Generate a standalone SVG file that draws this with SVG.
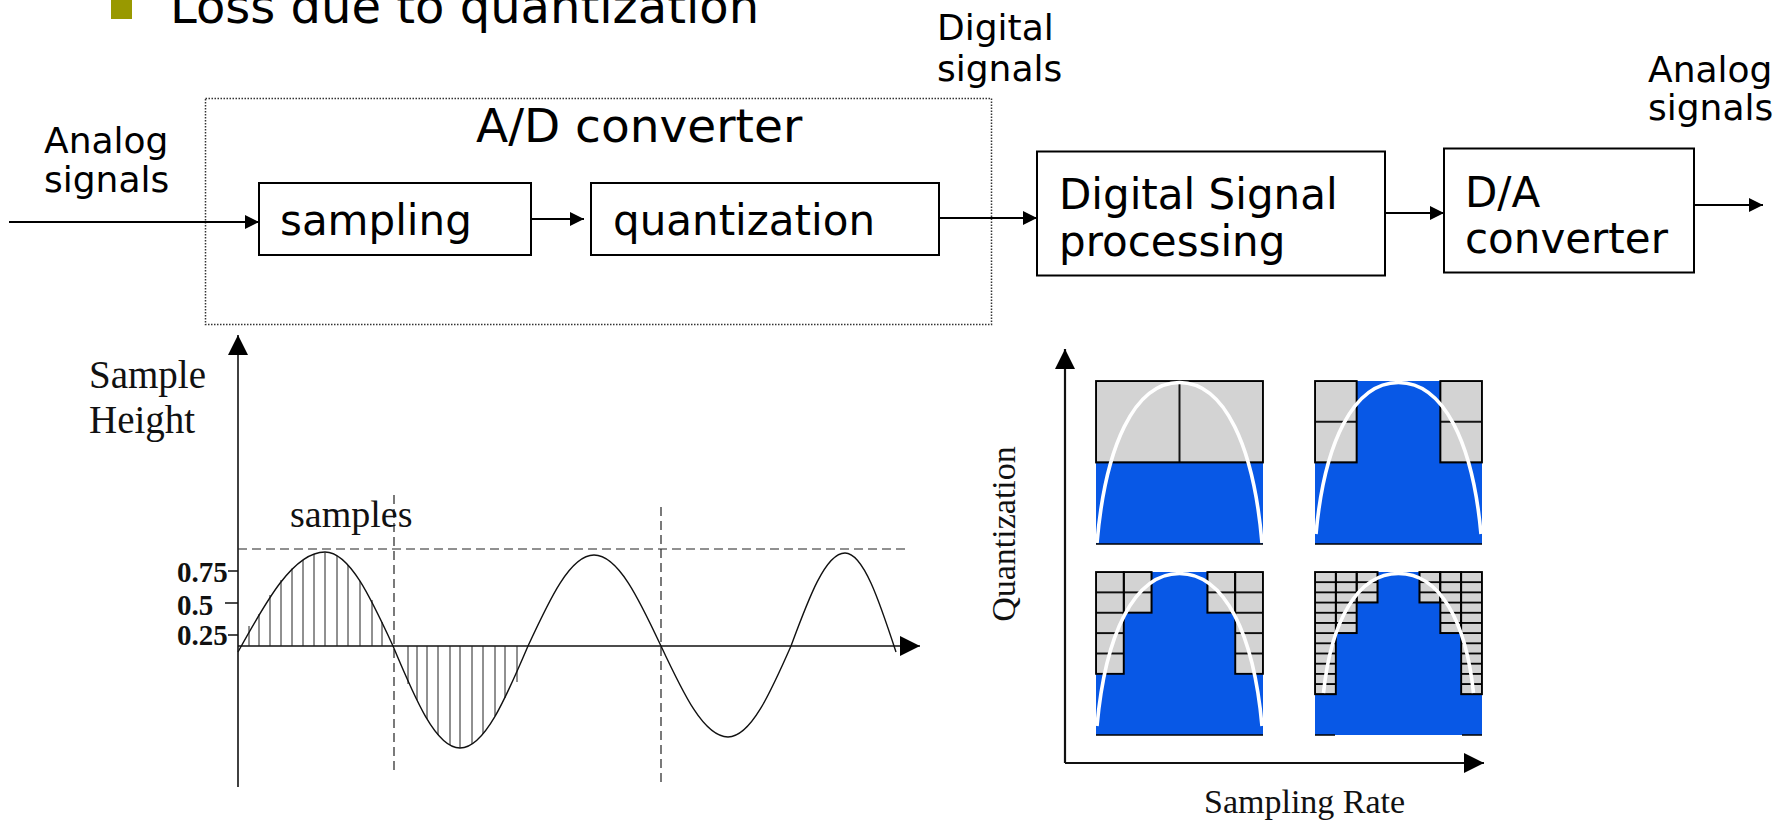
<svg xmlns="http://www.w3.org/2000/svg" width="1792" height="822" viewBox="0 0 1792 822">
  <defs>
    <style>
      .sans{font-family:"DejaVu Sans","Verdana",sans-serif;fill:#000}
      .serif{font-family:"Liberation Serif","Times New Roman",serif;fill:#111}
      .box{fill:#fff;stroke:#000;stroke-width:2}
      .wire{stroke:#000;stroke-width:2;fill:none}
      .dots{fill:none;stroke:#333;stroke-width:1.5;stroke-dasharray:1.5 1.5}
      .dash{stroke:#222;stroke-width:1.2;stroke-dasharray:9 5;fill:none}
      .axis{stroke:#111;stroke-width:1.6;fill:none}
      .axis2{stroke:#111;stroke-width:2.2;fill:none}
      .hatch{stroke:#222;stroke-width:1;fill:none}
      .blue{fill:#0858e6}
      .cells{stroke:#000;stroke-width:1.8}
      .edge{fill:none;stroke:#000;stroke-width:1.4}
      .curve{fill:none;stroke:#fff;stroke-width:3.6}
    </style>
    <marker id="arrow" viewBox="0 0 10 10" refX="10" refY="5" markerWidth="14" markerHeight="14" markerUnits="userSpaceOnUse" orient="auto">
      <path d="M0,0 L10,5 L0,10 z" fill="#000"/>
    </marker>
    <marker id="axisHead" viewBox="0 0 10 10" refX="10" refY="5" markerWidth="21" markerHeight="20" markerUnits="userSpaceOnUse" orient="auto">
      <path d="M0,0 L10,5 L0,10 z" fill="#000"/>
    </marker>
    <!-- quantization grid cells, one tile per cell -->
    <pattern id="gTL" patternUnits="userSpaceOnUse" x="1096" y="381" width="83.5" height="81.5">
      <rect width="83.5" height="81.5" fill="#d3d3d3" stroke="#000" stroke-width="1.8"/>
    </pattern>
    <pattern id="gTR" patternUnits="userSpaceOnUse" x="1315" y="381" width="41.75" height="40.75">
      <rect width="41.75" height="40.75" fill="#d3d3d3" stroke="#000" stroke-width="1.8"/>
    </pattern>
    <pattern id="gBL" patternUnits="userSpaceOnUse" x="1096" y="572" width="27.8333" height="20.375">
      <rect width="27.8333" height="20.375" fill="#d3d3d3" stroke="#000" stroke-width="1.8"/>
    </pattern>
    <pattern id="gBR" patternUnits="userSpaceOnUse" x="1315" y="572" width="20.875" height="10.1875">
      <rect width="20.875" height="10.1875" fill="#d3d3d3" stroke="#000" stroke-width="1.8"/>
    </pattern>
  </defs>

  <rect width="1792" height="822" fill="#fff"/>

  <!-- heading line -->
  <g id="title">
    <rect x="111" y="-3" width="21" height="22" fill="#999900"/>
    <text class="sans" x="170" y="22.5" font-size="48">Loss due to quantization</text>
  </g>

  <g id="label-analog-in">
    <text class="sans" font-size="36"><tspan x="44" y="153">Analog</tspan><tspan x="44" y="192">signals</tspan></text>
  </g>

  <g id="ad-converter">
    <rect class="dots" x="205.5" y="98.5" width="786" height="226"/>
    <text class="sans" x="476" y="142" font-size="47">A/D converter</text>
  </g>

  <g id="node-sampling">
    <rect class="box" x="259" y="183" width="272" height="72"/>
    <text class="sans" x="280" y="235" font-size="42">sampling</text>
  </g>

  <g id="node-quantization">
    <rect class="box" x="591" y="183" width="348" height="72"/>
    <text class="sans" x="613" y="235" font-size="42">quantization</text>
  </g>

  <g id="label-digital">
    <text class="sans" font-size="36"><tspan x="937" y="40">Digital</tspan><tspan x="937" y="81">signals</tspan></text>
  </g>

  <g id="node-dsp">
    <rect class="box" x="1037" y="151.5" width="348" height="124"/>
    <text class="sans" font-size="42"><tspan x="1059" y="209">Digital Signal</tspan><tspan x="1059" y="256">processing</tspan></text>
  </g>

  <g id="node-da">
    <rect class="box" x="1444" y="148.5" width="250" height="124"/>
    <text class="sans" font-size="42"><tspan x="1465" y="207">D/A</tspan><tspan x="1465" y="253">converter</tspan></text>
  </g>

  <g id="label-analog-out">
    <text class="sans" font-size="36"><tspan x="1648" y="82">Analog</tspan><tspan x="1648" y="120">signals</tspan></text>
  </g>

  <!-- signal path -->
  <g id="connectors">
    <line class="wire" x1="9" y1="222" x2="259" y2="222" marker-end="url(#arrow)"/>
    <line class="wire" x1="531" y1="219" x2="584" y2="219" marker-end="url(#arrow)"/>
    <line class="wire" x1="939" y1="218" x2="1037" y2="218" marker-end="url(#arrow)"/>
    <line class="wire" x1="1385" y1="213" x2="1444" y2="213" marker-end="url(#arrow)"/>
    <line class="wire" x1="1694" y1="205" x2="1763" y2="205" marker-end="url(#arrow)"/>
  </g>

  <!-- sampled sine wave -->
  <g id="plot-sampling">
    <line class="axis" x1="238" y1="787" x2="238" y2="335" marker-end="url(#axisHead)"/>
    <line class="axis" x1="238" y1="646" x2="920" y2="646" marker-end="url(#axisHead)"/>
    <path class="axis" d="M228,571H238 M225,603H238 M228,635H238"/>
    <line class="dash" x1="238" y1="549" x2="908" y2="549"/>
    <line class="dash" x1="394" y1="495" x2="394" y2="775"/>
    <line class="dash" x1="661" y1="507" x2="661" y2="787"/>
    <path class="hatch" d="M249,646V626 M259,646V614 M270,646V595 M281,646V580 M292,646V568.5 M303,646V560 M314,646V554 M325,646V552.5 M337,646V556 M348,646V565 M360,646V581 M372,646V600 M382,646V622"/>
    <path class="hatch" d="M408,646V684 M417,646V700 M427,646V719 M438,646V735 M450,646V745 M460,646V748 M472,646V744 M483,646V734 M495,646V716 M505,646V698 M517,646V682"/>
    <path fill="none" stroke="#111" stroke-width="1.4" d="M238,652 C266.3,600.8 293.6,552 325,552 C349.5,552 370.8,597.9 393,646 C414.8,698.2 435.8,748 460,748 C484.5,748 505.8,698.2 528,646 C549.5,599.4 570.2,555 594,555 C618.2,555 639.2,599.4 661,646 C682.8,692.6 703.8,737 728,737 C750.7,737 770.5,692.6 791,646 C808.6,598.4 825.5,553 845,553 C863.4,553 879.4,601.3 896,652"/>
    <text class="serif" font-size="39"><tspan x="89" y="388">Sample</tspan><tspan x="89" y="433">Height</tspan></text>
    <text class="serif" x="290" y="527" font-size="38">samples</text>
    <g class="serif" font-size="29" font-weight="bold">
      <text x="177" y="582">0.75</text>
      <text x="177" y="615">0.5</text>
      <text x="177" y="645">0.25</text>
    </g>
  </g>

  <!-- sampling rate vs quantization panels -->
  <g id="plot-quantization">
    <line class="axis2" x1="1065" y1="763" x2="1065" y2="349" marker-end="url(#axisHead)"/>
    <line class="axis2" x1="1065" y1="763" x2="1484" y2="763" marker-end="url(#axisHead)"/>
    <text class="serif" font-size="34" text-anchor="middle" transform="translate(1015,534) rotate(-90)">Quantization</text>
    <text class="serif" x="1204" y="813" font-size="34">Sampling Rate</text>

    <g id="panel-tl">
      <rect class="blue" x="1096" y="381" width="167" height="163"/>
      <rect class="cells" x="1096" y="381" width="167" height="81.5" fill="url(#gTL)"/>
      <path class="curve" d="M1097,543 C1105.25,446.7 1134.1,382.5 1179.5,382.5 C1224.9,382.5 1253.75,446.7 1262,543"/>
      <line class="edge" x1="1096" y1="544" x2="1263" y2="544"/>
    </g>

    <g id="panel-tr">
      <rect class="blue" x="1315" y="381" width="167" height="163"/>
      <rect class="cells" x="1315" y="381" width="41.75" height="81.5" fill="url(#gTR)"/>
      <rect class="cells" x="1440.25" y="381" width="41.75" height="81.5" fill="url(#gTR)"/>
      <path class="curve" d="M1316,534 C1324.25,443.1 1353.1,382.5 1398.5,382.5 C1443.9,382.5 1472.75,443.1 1481,534"/>
      <line class="edge" x1="1315" y1="544" x2="1482" y2="544"/>
    </g>

    <g id="panel-bl">
      <rect class="blue" x="1096" y="572" width="167" height="163"/>
      <rect class="cells" x="1096" y="572" width="27.8333" height="101.875" fill="url(#gBL)"/>
      <rect class="cells" x="1123.8333" y="572" width="27.8333" height="40.75" fill="url(#gBL)"/>
      <rect class="cells" x="1207.3333" y="572" width="27.8333" height="40.75" fill="url(#gBL)"/>
      <rect class="cells" x="1235.1667" y="572" width="27.8333" height="101.875" fill="url(#gBL)"/>
      <path class="curve" d="M1097,726 C1105.25,634.5 1134.1,573.5 1179.5,573.5 C1224.9,573.5 1253.75,634.5 1262,726"/>
      <line class="edge" x1="1096" y1="735" x2="1263" y2="735"/>
    </g>

    <g id="panel-br">
      <rect class="blue" x="1315" y="572" width="167" height="163"/>
      <rect class="cells" x="1315" y="572" width="20.875" height="122.25" fill="url(#gBR)"/>
      <rect class="cells" x="1335.875" y="572" width="20.875" height="61.125" fill="url(#gBR)"/>
      <rect class="cells" x="1356.75" y="572" width="20.875" height="30.5625" fill="url(#gBR)"/>
      <rect class="cells" x="1419.375" y="572" width="20.875" height="30.5625" fill="url(#gBR)"/>
      <rect class="cells" x="1440.25" y="572" width="20.875" height="61.125" fill="url(#gBR)"/>
      <rect class="cells" x="1461.125" y="572" width="20.875" height="122.25" fill="url(#gBR)"/>
      <path class="curve" d="M1323.5,693 C1331,621.3 1357.25,573.5 1398.5,573.5 C1439.75,573.5 1466,621.3 1473.5,693"/>
      <path class="edge" d="M1315,735H1335 M1462,735H1482"/>
    </g>
  </g>
</svg>
